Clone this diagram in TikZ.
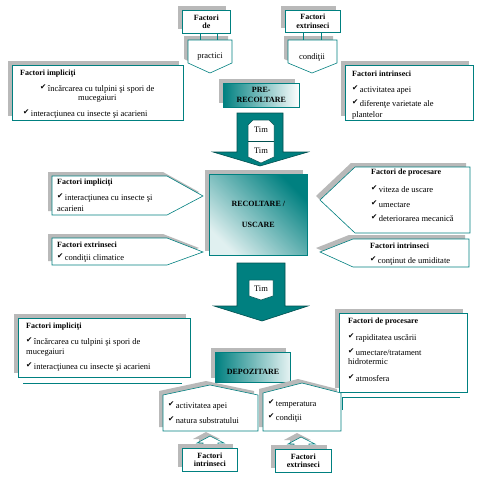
\documentclass[tikz,border=0pt]{standalone}
\usepackage{fontspec}
\setmainfont{Liberation Serif}
\newfontfamily\symfont{DejaVu Sans}
\usepackage{tikz}
\usetikzlibrary{shadows}
\definecolor{tealc}{RGB}{0,128,128}
\definecolor{darkteal}{RGB}{0,80,80}
\definecolor{shadowgray}{RGB}{185,185,185}
\newcommand{\chk}{\raisebox{1.5pt}{\symfont\fontsize{7.5}{9}\selectfont ✔}\,}

\begin{document}
\begin{tikzpicture}[
  x=1pt, y=-1pt,
  font=\fontsize{8.5}{9}\selectfont,
  box/.style={draw=tealc, fill=white, line width=0.6pt,
              general shadow={fill=shadowgray, shadow xshift=-4pt, shadow yshift=4pt}},
  gbox/.style={draw=tealc, line width=0.6pt,
               general shadow={fill=shadowgray, shadow xshift=-4pt, shadow yshift=4pt}},
  lbl/.style={inner sep=0pt, anchor=west},
  ttl/.style={lbl, font=\fontsize{8}{9}\selectfont\bfseries},
  hdr/.style={box, anchor=north west, align=center, inner sep=1pt,
              font=\fontsize{8}{8.5}\selectfont\bfseries},
  bigarrow/.style={fill=tealc, draw=darkteal, line width=0.6pt},
  tag/.style={fill=white, draw=darkteal, line width=0.5pt},
]
\fill[white] (0,0) rectangle (477,490);
\useasboundingbox (0,0) rectangle (477,490);

% top: factori de practici / factori extrinseci
\node[hdr, minimum width=48, minimum height=23] (fdHead) at (182,10) {Factori\\de};
\draw[box] (188,40) -- (232,40) -- (232,63) -- (210,73) -- (188,63) -- cycle;
\draw[tealc, line width=0.6pt] (200,33) -- (200,40) (217,33) -- (217,40);
\node[lbl, anchor=center] (fdText) at (210,57) {practici};
\node[hdr, minimum width=55, minimum height=22] (feHead) at (285,10) {Factori\\extrinseci};
\draw[box] (288,40) -- (337,40) -- (337,63) -- (312,73) -- (288,63) -- cycle;
\draw[tealc, line width=0.6pt] (303,32) -- (303,40) (321,32) -- (321,40);
\node[lbl, anchor=center] (feText) at (312,57) {condiţii};

% pre-recoltare side boxes
\node[box, anchor=north west, minimum width=171, minimum height=55] (impl1) at (12,65) {};
\node[ttl] (impl1t) at (20,74) {Factori impliciţi};
\node[lbl] (impl1a) at (40,89) {\chk încărcarea cu tulpini şi spori de};
\node[lbl] (impl1b) at (78,99) {mucegaiuri};
\node[lbl] (impl1c) at (23,114) {\chk interacţiunea cu insecte şi acarieni};

\node[box, anchor=north west, minimum width=128, minimum height=55] (intr1) at (345,65) {};
\node[ttl] (intr1t) at (352,74) {Factori intrinseci};
\node[lbl] (intr1a) at (352,90) {\chk activitatea apei};
\node[lbl] (intr1b) at (352,104) {\chk diferenţe varietate ale};
\node[lbl] (intr1c) at (352,115) {plantelor};

\node[gbox, anchor=north west, minimum width=76, minimum height=24, inner sep=0pt,
      left color=tealc, right color=white, align=center,
      font=\fontsize{8}{10}\selectfont\bfseries] (pre) at (223,83) {PRE-\\RECOLTARE};

% arrow 1
\draw[bigarrow] (237,113) -- (283,113) -- (283,152) -- (308,152) -- (260,166)
  -- (213,152) -- (237,152) -- cycle;
\draw[tag] (248,125) -- (253,120) -- (269,120) -- (274,125) -- (274,157) -- (261,163)
  -- (248,157) -- cycle;
\draw[darkteal, line width=0.5pt] (248,141) -- (274,141);
\node[lbl, anchor=center] (tim1) at (261,130) {Tim};
\node[lbl, anchor=center] (tim2) at (261,151) {Tim};

% recoltare / uscare
\node[gbox, anchor=north west, minimum width=98, minimum height=81, inner sep=0pt,
      bottom color=white!88!tealc, top color=tealc, shading angle=-45,
      align=center, font=\fontsize{8}{21}\selectfont\bfseries] (recolt) at (209,174)
      {RECOLTARE /\\USCARE};

\draw[box] (52,176) -- (167,176) -- (203,196) -- (167,215) -- (52,215) -- cycle;
\node[ttl] (impl2t) at (57,183) {Factori impliciţi};
\node[lbl] (impl2a) at (57,198) {\chk interacţiunea cu insecte şi};
\node[lbl] (impl2b) at (57,209) {acarieni};

\draw[box] (52,238) -- (167,238) -- (203,252) -- (167,265) -- (52,265) -- cycle;
\node[ttl] (extr2t) at (57,245) {Factori extrinseci};
\node[lbl] (extr2a) at (57,258) {\chk condiţii climatice};

\draw[box] (355,167) -- (470,167) -- (470,233) -- (355,233) -- (320,200) -- cycle;
\node[ttl] (proc2t) at (371,173) {Factori de procesare};
\node[lbl] (proc2a) at (371,189) {\chk viteza de uscare};
\node[lbl] (proc2b) at (371,204) {\chk umectare};
\node[lbl] (proc2c) at (371,218) {\chk deteriorarea mecanică};

\draw[box] (353,239) -- (469,239) -- (469,267) -- (353,267) -- (320,252) -- cycle;
\node[ttl] (intr2t) at (370,246) {Factori intrinseci};
\node[lbl] (intr2a) at (370,261) {\chk conţinut de umiditate};

% arrow 2
\draw[bigarrow] (237,263) -- (285,263) -- (285,306) -- (308,306) -- (262,321)
  -- (214,306) -- (237,306) -- cycle;
\draw[tag] (249,280) -- (273,280) -- (273,296) -- (261,300) -- (249,296) -- cycle;
\node[lbl, anchor=center] (tim3) at (261,289) {Tim};

% depozitare
\node[box, anchor=north west, minimum width=172, minimum height=59] (impl3) at (18,318) {};
\node[ttl] (impl3t) at (26,327) {Factori impliciţi};
\node[lbl] (impl3a) at (26,342) {\chk încărcarea cu tulpini şi spori de};
\node[lbl] (impl3b) at (26,353) {mucegaiuri};
\node[lbl] (impl3c) at (26,367) {\chk interacţiunea cu insecte şi acarieni};
\draw[tealc, line width=0.6pt] (23,383) -- (182,383);

\node[box, anchor=north west, minimum width=128, minimum height=79] (proc3) at (339,313) {};
\node[ttl] (proc3t) at (348,322) {Factori de procesare};
\node[lbl] (proc3a) at (348,338) {\chk rapiditatea uscării};
\node[lbl] (proc3b) at (348,352) {\chk umectare/tratament};
\node[lbl] (proc3c) at (348,362) {hidrotermic};
\node[lbl] (proc3d) at (348,378) {\chk atmosfera};
\draw[tealc, line width=0.6pt] (342,410) -- (342,397) -- (460,397);

\node[gbox, anchor=north west, minimum width=75, minimum height=30, inner sep=0pt,
      left color=tealc, right color=white!90!tealc] (depoz) at (215,352) {};
\node[lbl, anchor=center, font=\fontsize{8}{9}\selectfont\bfseries] (depozt) at (253,372) {DEPOZITARE};

% bottom: intrinseci / extrinseci
\draw[box] (163,431) -- (163,395) -- (210,385) -- (258,395) -- (258,431) -- cycle;
\node[lbl] (intr3a) at (168,406) {\chk activitatea apei};
\node[lbl] (intr3b) at (168,420) {\chk natura substratului};
\draw[box] (263,431) -- (263,393) -- (302,383) -- (341,393) -- (341,431) -- cycle;
\node[lbl] (extr3a) at (268,404) {\chk temperatura};
\node[lbl] (extr3b) at (268,418) {\chk condiţii};

\draw[box] (203,449) -- (203,443) -- (197,443) -- (210,436) -- (224,443) -- (218,443)
  -- (218,449) -- cycle;
\node[hdr, minimum width=55, minimum height=23] (intrFoot) at (182,448) {Factori\\intrinseci};
\draw[box] (294,449) -- (294,444) -- (288,444) -- (301,437) -- (315,444) -- (309,444)
  -- (309,449) -- cycle;
\node[hdr, minimum width=56, minimum height=23] (extrFoot) at (275,449) {Factori\\extrinseci};
\end{tikzpicture}
\end{document}
